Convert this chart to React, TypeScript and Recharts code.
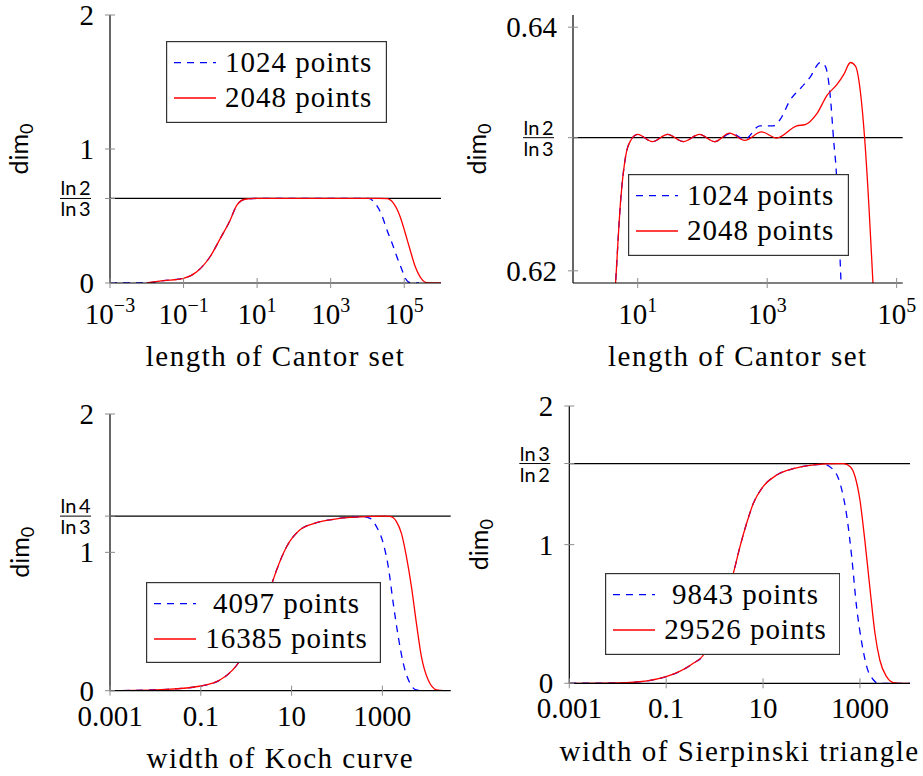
import React from 'react';
import { LineChart, Line, XAxis, YAxis, ReferenceLine, Legend, Label } from 'recharts';

// ---------------- data ----------------
// Cantor set, full view
const cantorX1024 = [0.001, 0.01, 0.0282, 0.1, 0.229, 0.525, 1, 1.86, 2.82, 4.68, 10, 100, 1000, 5010, 10700, 16200, 24500, 33900, 46800, 63100, 87100, 107000, 145000, 251000];
const cantorY1024 = [0, 0.001, 0.017, 0.035, 0.084, 0.196, 0.333, 0.47, 0.582, 0.625, 0.631, 0.631, 0.631, 0.632, 0.631, 0.595, 0.507, 0.396, 0.296, 0.196, 0.097, 0.035, 0.002, 0];
const cantorX2048 = [0.01, 0.0282, 0.1, 0.229, 0.525, 1, 1.86, 2.82, 4.68, 10, 100, 1000, 5010, 19950, 33900, 51300, 77600, 107000, 145000, 200000, 275000, 417000, 631000, 1000000];
const cantorY2048 = [0.001, 0.017, 0.035, 0.084, 0.196, 0.333, 0.47, 0.582, 0.625, 0.631, 0.631, 0.631, 0.632, 0.631, 0.629, 0.594, 0.495, 0.371, 0.246, 0.121, 0.042, 0.002, 0, 0];

// Cantor set, zoomed view
const cantorZoomX1024 = [4.09, 4.55, 5.45, 6.5, 7.78, 10, 16.9, 28.9, 50.7, 89.9, 153.8, 279, 450, 769, 1239, 1574, 2254, 3428, 4613, 6607, 7889, 9441, 10640, 11720, 12740, 13840, 14450];
const cantorZoomY1024 = [0.615, 0.619, 0.6258, 0.6294, 0.6307, 0.6312, 0.6306, 0.6312, 0.6306, 0.6312, 0.6306, 0.6313, 0.6308, 0.6319, 0.6319, 0.6324, 0.634, 0.6351, 0.6359, 0.6371, 0.6368, 0.6343, 0.6307, 0.628, 0.6236, 0.619, 0.6165];
const cantorZoomX2048 = [4.09, 4.55, 5.45, 6.5, 7.78, 10, 16.9, 28.9, 50.7, 89.9, 153.8, 263, 450, 818, 1400, 2864, 3855, 5861, 8395, 12000, 15200, 19320, 23120, 27670, 32000, 37300, 43050, 47300];
const cantorZoomY2048 = [0.615, 0.619, 0.6258, 0.6294, 0.6307, 0.6312, 0.6306, 0.6312, 0.6306, 0.6312, 0.6306, 0.6313, 0.6307, 0.6314, 0.6309, 0.6319, 0.632, 0.6329, 0.6344, 0.6353, 0.6361, 0.6371, 0.6368, 0.6346, 0.6309, 0.6253, 0.619, 0.615];

// Koch curve
const kochX4097 = [0.001, 0.0178, 0.1, 0.263, 0.5, 0.676, 1.56, 3.8, 4.68, 7.76, 15.1, 35.5, 83.2, 195, 380, 537, 741, 1047, 1349, 1738, 2239, 2884, 4074, 5623, 7943, 11200];
const kochY4097 = [0, 0.01, 0.034, 0.077, 0.149, 0.202, 0.487, 0.788, 0.872, 1.04, 1.161, 1.214, 1.239, 1.253, 1.257, 1.246, 1.186, 1.065, 0.896, 0.631, 0.39, 0.198, 0.053, 0.005, 0, 0];
const kochX16385 = [0.001, 0.0178, 0.1, 0.263, 0.5, 0.676, 1.56, 3.8, 4.68, 7.76, 15.1, 35.5, 83.2, 195, 447, 1000, 1479, 2042, 2630, 3388, 4365, 5623, 7244, 10230, 15850, 22400, 31600];
const kochY16385 = [0, 0.01, 0.034, 0.077, 0.149, 0.202, 0.487, 0.788, 0.872, 1.04, 1.161, 1.214, 1.239, 1.253, 1.258, 1.262, 1.26, 1.222, 1.137, 0.969, 0.752, 0.487, 0.246, 0.077, 0.005, 0, 0];

// Sierpinski triangle
const sierX9843 = [0.001, 0.0151, 0.1, 0.363, 0.589, 1.19, 2.43, 3.34, 4.58, 6.31, 10, 19.1, 42.2, 93.3, 174, 263, 389, 537, 676, 851, 1096, 1380, 1905, 2399, 10700];
const sierY9843 = [0, 0.005, 0.048, 0.144, 0.204, 0.48, 0.793, 0.986, 1.154, 1.298, 1.418, 1.502, 1.548, 1.572, 1.58, 1.55, 1.442, 1.202, 0.913, 0.553, 0.288, 0.12, 0.024, 0, 0];
const sierX29526 = [0.001, 0.0151, 0.1, 0.363, 0.589, 1.19, 2.43, 3.34, 4.58, 6.31, 10, 19.1, 42.2, 93.3, 204, 457, 631, 794, 1000, 1259, 1622, 2042, 2570, 3548, 4898, 7080, 10700];
const sierY29526 = [0, 0.005, 0.048, 0.144, 0.204, 0.48, 0.793, 0.986, 1.154, 1.298, 1.418, 1.502, 1.548, 1.572, 1.582, 1.584, 1.562, 1.49, 1.322, 1.034, 0.673, 0.361, 0.168, 0.048, 0.005, 0, 0];

// ticks / reference values
const LN2_LN3 = Math.log(2) / Math.log(3);
const LN4_LN3 = Math.log(4) / Math.log(3);
const LN3_LN2 = Math.log(3) / Math.log(2);
const cantorXTicks = [1e-3, 1e-1, 1e1, 1e3, 1e5];
const cantorZoomXTicks = [1e1, 1e3, 1e5];
const decXTicks = [0.001, 0.1, 10, 1000];
const cantorYTicks = [0, LN2_LN3, 1, 2];
const cantorZoomYTicks = [0.62, LN2_LN3, 0.64];
const kochYTicks = [0, 1, LN4_LN3, 2];
const sierYTicks = [0, 1, LN3_LN2, 2];

// ---------------- styling ----------------
const SERIF = "'Liberation Serif', 'DejaVu Serif', serif";
const SANS = "Lato, 'Open Sans', sans-serif";
const serif = (size: number, spacing = 0): React.CSSProperties => ({ fontFamily: SERIF, fontSize: size, letterSpacing: spacing });
const sans = (size: number): React.CSSProperties => ({ fontFamily: SANS, fontSize: size });
const TICK = '#8c8c8c';
const BLUE = '#0000ff';
const RED = '#ff0000';
const DASH = '7 6';
const Y_AXIS_W = 50;
const X_AXIS_H = 50;

type Pt = { x: number; y: number };
const zip = (xs: number[], ys: number[]): Pt[] => xs.map((x, i) => ({ x, y: ys[i] }));

interface Series { name: string; data: Pt[]; color: string; dash?: string }
interface PanelCfg {
  box: { left: number; top: number; width: number; height: number };
  plot: { l: number; r: number; t: number; b: number };
  xDomain: [number, number];
  yDomain: [number, number];
  xTicks: number[];
  xFmt: 'pow' | 'dec';
  yTicks: number[];
  refY: number;
  refLabel: [string, string];
  xTitle: string;
  xTitleDy: number;
  yTitleDx: number;
  tickDy: number;
  series: Series[];
  legend: { l: number; t: number; w: number; h: number; textCx: number };
}

const PANELS: PanelCfg[] = [
  {
    box: { left: 0, top: 0, width: 460, height: 390 },
    plot: { l: 110, r: 441, t: 15, b: 283 },
    xDomain: [1e-3, 1e6], yDomain: [0, 2],
    xTicks: cantorXTicks, xFmt: 'pow', yTicks: cantorYTicks,
    refY: LN2_LN3, refLabel: ['ln\u20092', 'ln\u20093'],
    xTitle: 'length of Cantor set', xTitleDy: 82.7, yTitleDx: -82, tickDy: 41,
    series: [
      { name: '1024 points', data: zip(cantorX1024, cantorY1024), color: BLUE, dash: DASH },
      { name: '2048 points', data: zip(cantorX2048, cantorY2048), color: RED },
    ],
    legend: { l: 166, t: 41, w: 221, h: 82, textCx: 132.7 },
  },
  {
    box: { left: 460, top: 0, width: 463, height: 390 },
    plot: { l: 573, r: 902.7, t: 15, b: 283 },
    xDomain: [1, 124000], yDomain: [0.619, 0.641],
    xTicks: cantorZoomXTicks, xFmt: 'pow', yTicks: cantorZoomYTicks,
    refY: LN2_LN3, refLabel: ['ln\u20092', 'ln\u20093'],
    xTitle: 'length of Cantor set', xTitleDy: 82.7, yTitleDx: -87, tickDy: 41,
    series: [
      { name: '1024 points', data: zip(cantorZoomX1024, cantorZoomY1024), color: BLUE, dash: DASH },
      { name: '2048 points', data: zip(cantorZoomX2048, cantorZoomY2048), color: RED },
    ],
    legend: { l: 628.3, t: 174.3, w: 221, h: 82, textCx: 132.7 },
  },
  {
    box: { left: 0, top: 390, width: 460, height: 386 },
    plot: { l: 110, r: 450.7, t: 414, b: 690.7 },
    xDomain: [0.001, 32000], yDomain: [0, 2],
    xTicks: decXTicks, xFmt: 'dec', yTicks: kochYTicks,
    refY: LN4_LN3, refLabel: ['ln\u20094', 'ln\u20093'],
    xTitle: 'width of Koch curve', xTitleDy: 77.3, yTitleDx: -80.7, tickDy: 35.3,
    series: [
      { name: '4097 points', data: zip(kochX4097, kochY4097), color: BLUE, dash: DASH },
      { name: '16385 points', data: zip(kochX16385, kochY16385), color: RED },
    ],
    legend: { l: 146, t: 581.7, w: 235, h: 81, textCx: 140.5 },
  },
  {
    box: { left: 460, top: 390, width: 463, height: 386 },
    plot: { l: 569.3, r: 910, t: 406, b: 683.3 },
    xDomain: [0.001, 10800], yDomain: [0, 2],
    xTicks: decXTicks, xFmt: 'dec', yTicks: sierYTicks,
    refY: LN3_LN2, refLabel: ['ln\u20093', 'ln\u20092'],
    xTitle: 'width of Sierpinski triangle', xTitleDy: 77.4, yTitleDx: -81, tickDy: 35,
    series: [
      { name: '9843 points', data: zip(sierX9843, sierY9843), color: BLUE, dash: DASH },
      { name: '29526 points', data: zip(sierX29526, sierY29526), color: RED },
    ],
    legend: { l: 604.7, t: 573.3, w: 235.3, h: 82, textCx: 140.5 },
  },
];

// ---------------- tick renderers ----------------
function XTick(props: any) {
  const { x, y, payload, fmt, dy } = props;
  const v = payload.value as number;
  let label: React.ReactNode;
  if (fmt === 'pow') {
    const e = Math.round(Math.log10(v));
    const es = e < 0 ? '\u2212' + String(-e) : String(e);
    label = (
      <text x={x} y={y + dy} textAnchor="middle" style={serif(29)} fill="#000">
        10<tspan dy={-12} style={serif(20)}>{es}</tspan>
      </text>
    );
  } else {
    label = (
      <text x={x} y={y + dy} textAnchor="middle" style={serif(29)} fill="#000">
        {String(v)}
      </text>
    );
  }
  return (
    <g>
      <line x1={x} x2={x} y1={y - 5} y2={y + 5} stroke={TICK} strokeWidth={1} />
      {label}
    </g>
  );
}

function YTick(props: any) {
  const { x, y, payload, refY, refLabel } = props;
  const v = payload.value as number;
  const isRef = Math.abs(v - refY) < 1e-9;
  return (
    <g>
      <line x1={x - 5} x2={x + 5} y1={y} y2={y} stroke={TICK} strokeWidth={1} />
      {isRef ? (
        <g>
          <text x={x - 34.5} y={y - 3} textAnchor="middle" style={sans(20)} fill="#000">{refLabel[0]}</text>
          <line x1={x - 50} x2={x - 19} y1={y} y2={y} stroke="#000" strokeWidth={1} />
          <text x={x - 34.5} y={y + 18} textAnchor="middle" style={sans(20)} fill="#000">{refLabel[1]}</text>
        </g>
      ) : (
        <text x={x - 16} y={y + 10} textAnchor="end" style={serif(29)} fill="#000">{String(v)}</text>
      )}
    </g>
  );
}

// ---------------- panel ----------------
function Panel({ cfg }: { cfg: PanelCfg }) {
  const { box, plot, legend } = cfg;
  const margin = {
    top: plot.t - box.top,
    bottom: box.top + box.height - plot.b - X_AXIS_H,
    left: plot.l - box.left - Y_AXIS_W,
    right: box.left + box.width - plot.r,
  };
  const lx = plot.l - box.left;
  const lb = plot.b - box.top;
  const cx = (plot.l + plot.r) / 2 - box.left;
  const cy = (plot.t + plot.b) / 2 - box.top;

  const renderLegend = (props: any) => {
    const payload: any[] = props?.payload || [];
    return (
      <svg width={legend.w} height={legend.h} style={{ display: 'block' }}>
        <rect x={0.6} y={0.6} width={legend.w - 1.2} height={legend.h - 1.2} fill="#fff" stroke="#333" strokeWidth={1.2} />
        {cfg.series.map((s, i) => {
          const entry = payload.find((e: any) => e.value === s.name);
          const color = entry?.color ?? s.color;
          const ly = i === 0 ? 21.7 : 57;
          const by = i === 0 ? 30.7 : 65.7;
          return (
            <g key={s.name}>
              <line x1={8} x2={50} y1={ly} y2={ly} stroke={color} strokeWidth={1.3} strokeDasharray={s.dash} />
              <text x={legend.textCx} y={by} textAnchor="middle" style={serif(29, 1)} fill="#000">{s.name}</text>
            </g>
          );
        })}
      </svg>
    );
  };

  return (
    <div style={{ position: 'absolute', left: box.left, top: box.top, width: box.width, height: box.height }}>
      <LineChart width={box.width} height={box.height} margin={margin}>
        <XAxis
          dataKey="x"
          type="number"
          scale="log"
          domain={cfg.xDomain}
          allowDataOverflow
          ticks={cfg.xTicks}
          interval={0}
          tickSize={0}
          tickMargin={0}
          tickLine={false}
          height={X_AXIS_H}
          axisLine={{ stroke: '#000', strokeWidth: 1.2 }}
          tick={(p: any) => <XTick {...p} fmt={cfg.xFmt} dy={cfg.tickDy} />}
        >
          <Label
            content={() => (
              <text x={cx} y={lb + cfg.xTitleDy} textAnchor="middle" style={serif(29, 1.5)} fill="#000">
                {cfg.xTitle}
              </text>
            )}
          />
        </XAxis>
        <YAxis
          type="number"
          domain={cfg.yDomain}
          allowDataOverflow
          ticks={cfg.yTicks}
          interval={0}
          tickSize={0}
          tickMargin={0}
          tickLine={false}
          width={Y_AXIS_W}
          axisLine={{ stroke: '#000', strokeWidth: 1.2 }}
          tick={(p: any) => <YTick {...p} refY={cfg.refY} refLabel={cfg.refLabel} />}
        >
          <Label
            content={() => (
              <text
                x={lx + cfg.yTitleDx}
                y={cy}
                transform={`rotate(-90 ${lx + cfg.yTitleDx} ${cy})`}
                textAnchor="middle"
                style={sans(25)}
                fill="#000"
              >
                dim<tspan style={sans(18)} dy={5}>0</tspan>
              </text>
            )}
          />
        </YAxis>
        <ReferenceLine y={cfg.refY} stroke="#000" strokeWidth={1.2} />
        {cfg.series.map((s) => (
          <Line
            key={s.name}
            name={s.name}
            data={s.data}
            dataKey="y"
            type="monotone"
            stroke={s.color}
            strokeWidth={1.3}
            strokeDasharray={s.dash}
            dot={false}
            activeDot={false}
            isAnimationActive={false}
          />
        ))}
        <Legend
          layout="horizontal"
          verticalAlign="middle"
          align="center"
          content={renderLegend}
          wrapperStyle={{
            position: 'absolute',
            left: legend.l - box.left,
            top: legend.t - box.top,
            width: legend.w,
            height: legend.h,
            margin: 0,
            padding: 0,
            lineHeight: 0,
          }}
        />
      </LineChart>
    </div>
  );
}

export default function App() {
  return (
    <div style={{ position: 'relative', width: 923, height: 776, background: '#fff', fontFamily: SERIF }}>
      <style>{'body{margin:0;background:#fff}'}</style>
      {PANELS.map((p, i) => (
        <Panel key={i} cfg={p} />
      ))}
    </div>
  );
}
